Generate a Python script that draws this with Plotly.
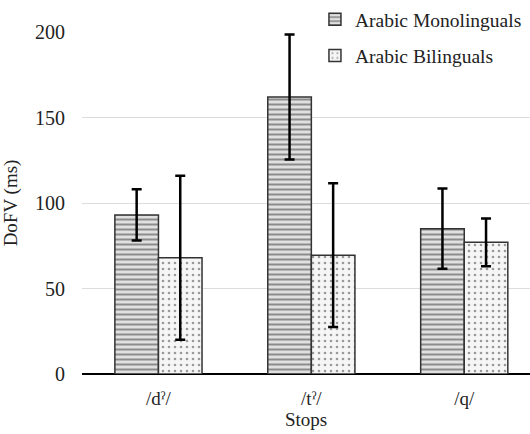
import plotly.graph_objects as go

categories = ["/dˀ/", "/tˀ/", "/q/"]
mono_vals = [93, 162, 85]
mono_err = [15, 36.5, 23.5]
bi_vals = [68, 69.5, 77]
bi_err = [48, 42, 14]
y_ticks = [0, 50, 100, 150, 200]

FONT = "Liberation Serif"

fig = go.Figure()
fig.add_trace(go.Bar(
    x=categories, y=mono_vals, name="Arabic Monolinguals", legendgroup="a",
    marker=dict(color="#d0d0d0", line=dict(color="#333333", width=1.5),
                pattern=dict(shape="-", fgcolor="#8c8c8c", bgcolor="#e0e0e0", size=5, solidity=0.4, fillmode="replace")),
    error_y=dict(type="data", array=mono_err, color="black", thickness=2.5, width=5),
))
fig.add_trace(go.Bar(
    x=categories, y=bi_vals, name="Arabic Bilinguals", legendgroup="b",
    marker=dict(color="#f4f4f4", line=dict(color="#333333", width=1.5),
                pattern=dict(shape=".", fgcolor="#9a9a9a", bgcolor="#f6f6f6", size=6, solidity=0.15, fillmode="replace")),
    error_y=dict(type="data", array=bi_err, color="black", thickness=2.5, width=5),
))

fig.update_layout(
    width=530, height=434,
    margin=dict(l=82, r=0, t=30, b=60),
    paper_bgcolor="white", plot_bgcolor="white",
    font=dict(family=FONT, size=19, color="#222222"),
    barmode="group", bargap=0.43, bargroupgap=0,
    legend=dict(x=0.52, y=1.095, xanchor="left", yanchor="top",
                traceorder="grouped", tracegroupgap=8,
                font=dict(family=FONT, size=19.5, color="#222222"),
                bgcolor="rgba(0,0,0,0)", itemwidth=30),
    xaxis=dict(range=[-0.5, 2.43], showgrid=False, showline=False, ticks="",
               ticklabelstandoff=11,
               title=dict(text="Stops", standoff=0, font=dict(size=19)),
               tickfont=dict(size=19)),
    yaxis=dict(range=[0, 200], tickvals=y_ticks, showgrid=True, gridcolor="#dcdcdc",
               gridwidth=1, zeroline=True, zerolinecolor="black", zerolinewidth=2,
               showline=False, ticks="", ticklabelstandoff=16,
               title=dict(text="DoFV (ms)", standoff=12, font=dict(size=19)),
               tickfont=dict(size=20)),
)

fig.write_html("out.html")
